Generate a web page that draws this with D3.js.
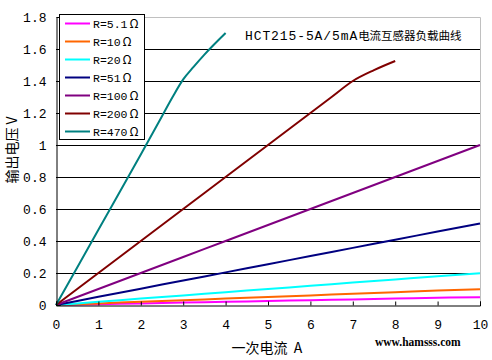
<!DOCTYPE html>
<html><head><meta charset="utf-8">
<script src="https://cdn.jsdelivr.net/npm/d3@7"></script>
<style>body{margin:0;background:#fff}svg{display:block}</style>
</head><body>
<svg id="c" width="492" height="360"></svg>
<script>
const titleText = ["HCT215-5A/5mA", "电流互感器负载曲线"];
const xLabel = "一次电流  A";
const yLabel = "输出电压 V";
const watermark = "www.hamsss.com";
const xTicks = [0,1,2,3,4,5,6,7,8,9,10];
const yTicks = [0,0.2,0.4,0.6,0.8,1,1.2,1.4,1.6,1.8];
const seriesNames = ["R=5.1", "R=10", "R=20", "R=51", "R=100", "R=200", "R=470"];
const seriesColors = ["#FF00FF", "#FF6600", "#00FFFF", "#000080", "#800080", "#800000", "#008080"];
const xLinear = [0,1,2,3,4,5,6,7,8,9,10];
const v5_1 = [0,0.005,0.01,0.015,0.02,0.025,0.03,0.035,0.04,0.045,0.049];
const v10 = [0,0.01,0.02,0.03,0.04,0.05,0.06,0.07,0.08,0.09,0.099];
const v20 = [0,0.02,0.04,0.06,0.08,0.1,0.12,0.14,0.16,0.18,0.198];
const v51 = [0,0.051,0.102,0.153,0.204,0.255,0.306,0.357,0.408,0.459,0.51];
const v100 = [0,0.1,0.2,0.3,0.4,0.5,0.6,0.7,0.8,0.9,1.0];
const x200 = [0,1,2,3,4,5,6,6.5,7,7.5,8];
const v200 = [0,0.2,0.4,0.6,0.8,1.0,1.2,1.3,1.4,1.468,1.525];
const x470 = [0,1,2,2.5,2.75,3,3.25,3.5,4];
const v470 = [0,0.47,0.94,1.18,1.3,1.41,1.49,1.565,1.7];

const seriesX = [xLinear, xLinear, xLinear, xLinear, xLinear, x200, x470];
const seriesY = [v5_1, v10, v20, v51, v100, v200, v470];

const svg = d3.select("#c");
const L = 56, R = 480, T = 17, B = 305;
const x = d3.scaleLinear().domain([0,10]).range([L,R]);
const y = d3.scaleLinear().domain([0,1.8]).range([B,T]);

// gridlines
svg.append("g").selectAll("line").data(yTicks.filter(d => d > 0 && d < 1.8)).join("line")
  .attr("x1", L).attr("x2", R).attr("y1", d => Math.round(y(d)) + 0.5).attr("y2", d => Math.round(y(d)) + 0.5)
  .attr("stroke", "#000").attr("stroke-width", 1);
// top & right border
svg.append("path").attr("d", `M${L},${T+0.5}H${R+0.5}V${B}`).attr("fill","none").attr("stroke","#c0c0c0");

// series
const line = d3.line().x(d => x(d[0])).y(d => y(d[1])).curve(d3.curveMonotoneX);
svg.append("g").selectAll("path").data(seriesNames.map((n,i) => ({i, pts: seriesX[i].map((xv,j) => [xv, seriesY[i][j]])})))
  .join("path").attr("d", d => line(d.pts)).attr("fill","none")
  .attr("stroke", d => seriesColors[d.i]).attr("stroke-width", 2);

// axes
const fontNum = "'Liberation Mono','DejaVu Sans Mono',monospace";
const xAxis = d3.axisBottom(x).tickValues(xTicks).tickSize(-4).tickPadding(12).tickFormat(d3.format("d"));
const gx = svg.append("g").attr("transform", `translate(0,${B+0.5})`).call(xAxis);
gx.select(".domain").attr("stroke","#000");
gx.selectAll(".tick line").attr("stroke","#000");
gx.selectAll("text").attr("font-family", fontNum).attr("font-size", 13).attr("fill","#000").attr("dy","0.9em");

const yAxis = d3.axisLeft(y).tickValues(yTicks).tickSize(-4).tickPadding(10).tickFormat(d => d === 0 ? "0" : d === 1 ? "1" : d3.format(".1f")(d));
const gy = svg.append("g").attr("transform", `translate(${L+0.5},0)`).call(yAxis);
gy.select(".domain").attr("stroke","#000");
gy.selectAll(".tick line").attr("stroke","#000");
gy.selectAll("text").attr("font-family", fontNum).attr("font-size", 13).attr("fill","#000");

// legend
const lg = svg.append("g");
lg.append("rect").attr("x", 59.5).attr("y", 14.5).attr("width", 85).attr("height", 125)
  .attr("fill","#fff").attr("stroke","#000");
seriesNames.forEach((n,i) => {
  const yy = 23.5 + i*18;
  lg.append("line").attr("x1",65).attr("x2",90).attr("y1",yy).attr("y2",yy)
    .attr("stroke", seriesColors[i]).attr("stroke-width", 2);
  const t = lg.append("text").attr("x",93).attr("y",yy+4.5).attr("font-size",11.5).attr("fill","#000")
    .attr("font-family", fontNum);
  t.append("tspan").text(n);
  t.append("tspan").attr("dx",2).attr("font-family","'Noto Sans CJK SC'").attr("font-size",12).text("Ω");
});

// title
const tt = svg.append("text").attr("x",245).attr("y",40).attr("fill","#000");
tt.append("tspan").attr("font-family", fontNum).attr("font-size",13).attr("letter-spacing",0.9).text(titleText[0]);
tt.append("tspan").attr("font-family","'Noto Sans CJK SC'").attr("font-size",11.5).text(titleText[1]);

// axis labels
svg.append("text").attr("x",267).attr("y",353).attr("text-anchor","middle").attr("xml:space","preserve")
  .style("white-space","pre")
  .attr("font-family","'Noto Sans CJK SC'").attr("font-size",14).attr("fill","#000").text(xLabel);
svg.append("text").attr("transform","translate(17,150) rotate(-90)").attr("text-anchor","middle")
  .attr("font-family","'Noto Sans CJK SC'").attr("font-size",14).attr("fill","#000").text(yLabel);
svg.append("text").attr("x",375).attr("y",346).attr("font-family","'Liberation Serif',serif")
  .attr("font-weight","bold").attr("font-size",11.5).attr("fill","#000").text(watermark);
</script>
</body></html>
